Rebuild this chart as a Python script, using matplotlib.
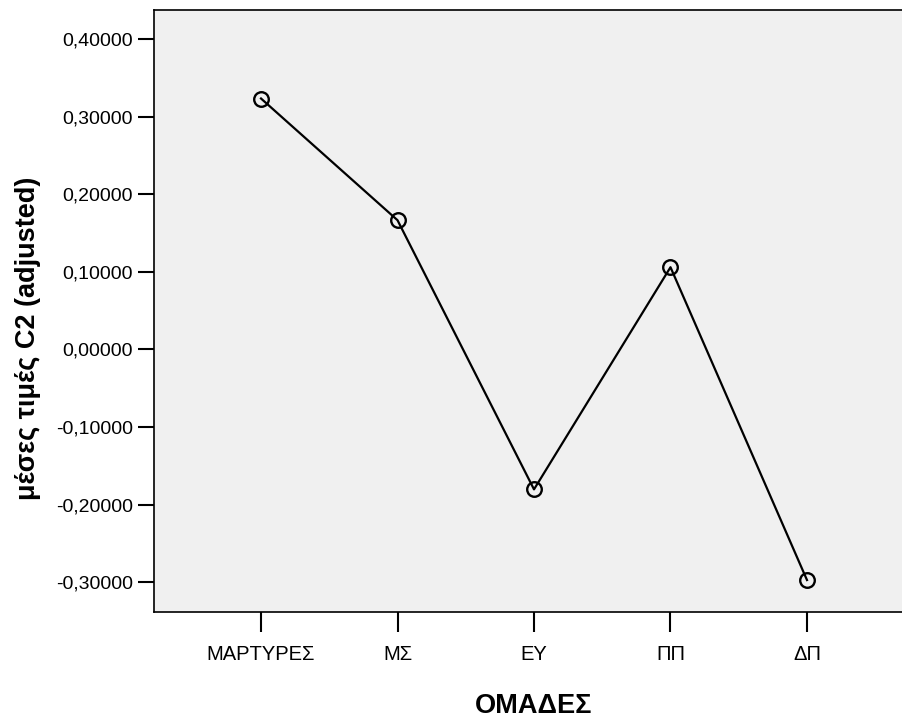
import matplotlib
matplotlib.use("Agg")
import matplotlib.pyplot as plt
from matplotlib.ticker import FixedLocator, FuncFormatter

# Data
categories = ["ΜΑΡΤΥΡΕΣ", "ΜΣ", "ΕΥ", "ΠΠ", "ΔΠ"]
means = [0.3235, 0.1666, -0.1804, 0.1060, -0.2973]
y_ticks = [-0.3, -0.2, -0.1, 0.0, 0.1, 0.2, 0.3, 0.4]

plt.rcParams['font.family'] = ['Liberation Sans', 'DejaVu Sans']

W, H = 902, 722
fig = plt.figure(figsize=(W / 100, H / 100), dpi=100)
fig.patch.set_facecolor('white')

left_px, right_px, top_px, bottom_px = 154, 914, 10, 612
ax = fig.add_axes([left_px / W, (H - bottom_px) / H,
                   (right_px - left_px) / W, (bottom_px - top_px) / H])
ax.set_facecolor('#F0F0F0')

x = list(range(len(categories)))
ax.plot(x, means, color='black', linewidth=1.6, marker='o', markersize=10.5,
        markerfacecolor='none', markeredgecolor='black', markeredgewidth=1.7,
        clip_on=False)

ax.set_xlim(-0.784, len(categories) - 1 + 0.784)
ax.set_ylim(-0.3385, 0.4376)

ax.yaxis.set_major_locator(FixedLocator(y_ticks))
ax.yaxis.set_major_formatter(FuncFormatter(lambda v, p: f"{v:.5f}".replace('.', ',').replace('-0,00000', '0,00000')))
ax.set_xticks(x)
ax.set_xticklabels(categories)

for s in ['left', 'bottom', 'top']:
    ax.spines[s].set_color('black')
    ax.spines[s].set_linewidth(1.2)
ax.spines['right'].set_visible(False)

ax.tick_params(axis='y', direction='out', length=11.5, width=1.5, pad=3.5,
               labelsize=14, colors='black')
ax.tick_params(axis='x', direction='out', length=14.4, width=1.5, pad=9,
               labelsize=14.5, colors='black')

ax.set_xlabel("ΟΜΑΔΕΣ", fontsize=19.5, fontweight='bold')
ax.xaxis.set_label_coords(0.5, -0.156)
ax.xaxis.label.set_va('center')

ax.set_ylabel("μέσες τιμές C2 (adjusted)", fontsize=19.5, fontweight='bold')
ax.yaxis.set_label_coords(-0.166, 0.455)
ax.yaxis.label.set_va('center')

fig.savefig("out.png", dpi=100, facecolor='white')
